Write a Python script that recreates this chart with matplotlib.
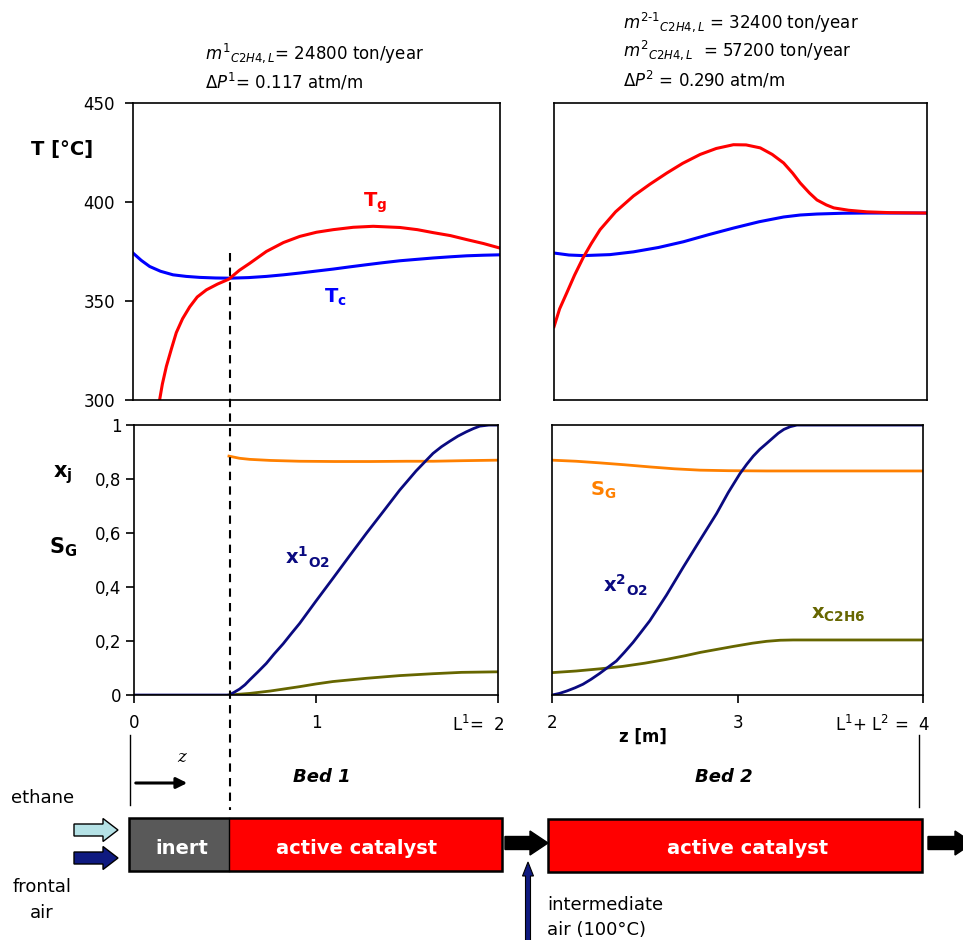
import matplotlib.pyplot as plt
from matplotlib.patches import Rectangle, FancyArrow
from matplotlib.transforms import ScaledTranslation

# ---- bed 1 temperature profiles (z in m, T in degC)
z_tg1 = [0.145, 0.16, 0.182, 0.21, 0.236, 0.27, 0.309, 0.35, 0.40, 0.46, 0.522, 0.58,
         0.636, 0.727, 0.82, 0.909, 1.0, 1.091, 1.2, 1.309, 1.455, 1.55, 1.636, 1.73,
         1.818, 1.91, 2.0]
tg1 = [300, 308, 317, 326, 334, 341, 347, 352, 355.6, 358.5, 361, 365.5,
       369, 375, 379.5, 382.6, 384.7, 386, 387.2, 387.7, 387.1, 386, 384.5, 383,
       381, 379, 376.7]
z_tc1 = [0.0, 0.045, 0.091, 0.15, 0.218, 0.29, 0.364, 0.45, 0.527, 0.63, 0.727, 0.82,
         0.909, 1.0, 1.091, 1.18, 1.273, 1.36, 1.455, 1.545, 1.636, 1.73, 1.818, 1.91, 2.0]
tc1 = [374.2, 370.5, 367.4, 365.0, 363.2, 362.4, 361.9, 361.6, 361.5, 361.8, 362.4, 363.2,
       364.1, 365.1, 366.1, 367.2, 368.3, 369.3, 370.3, 371.0, 371.7, 372.3, 372.8, 373.1, 373.3]

# ---- bed 2 temperature profiles
z_tg2 = [2.0, 2.03, 2.068, 2.11, 2.157, 2.2, 2.247, 2.33, 2.426, 2.515, 2.605, 2.69,
         2.784, 2.87, 2.962, 3.03, 3.106, 3.17, 3.231, 3.28, 3.32, 3.37, 3.41, 3.46,
         3.5, 3.58, 3.678, 3.8, 4.0]
tg2 = [337, 346, 354, 363, 372, 379, 386, 395, 403, 409, 414.6, 419.5,
       424, 427, 428.9, 428.8, 427.3, 424, 419.7, 414.5, 409.6, 404.5, 401, 398.5,
       397, 395.8, 395, 394.6, 394.4]
z_tc2 = [2.0, 2.08, 2.157, 2.3, 2.426, 2.56, 2.694, 2.83, 2.962, 3.1, 3.231, 3.32,
         3.41, 3.55, 3.678, 4.0]
tc2 = [374.2, 373.2, 372.9, 373.4, 374.8, 377, 379.9, 383.5, 386.8, 390, 392.4, 393.4,
       393.9, 394.3, 394.4, 394.4]

# ---- bed 1 conversions / selectivity
z_sg1 = [0.522, 0.58, 0.636, 0.75, 0.91, 1.1, 1.3, 1.5, 1.643, 1.8, 2.0]
sg1 = [0.885, 0.877, 0.873, 0.869, 0.866, 0.865, 0.865, 0.866, 0.866, 0.868, 0.870]
z_xo1 = [0.0, 0.522, 0.55, 0.58, 0.61, 0.636, 0.68, 0.727, 0.77, 0.82, 0.865, 0.91, 1.0,
         1.093, 1.185, 1.277, 1.37, 1.46, 1.55, 1.6, 1.643, 1.69, 1.735, 1.78, 1.826,
         1.865, 1.9, 1.95, 2.0]
xo1 = [0.0, 0.0, 0.010, 0.022, 0.038, 0.056, 0.085, 0.117, 0.152, 0.19, 0.228, 0.265, 0.348,
       0.432, 0.516, 0.599, 0.68, 0.759, 0.83, 0.865, 0.895, 0.92, 0.94, 0.959, 0.975,
       0.987, 0.996, 1.0, 1.0]
z_xe1 = [0.522, 0.636, 0.75, 0.91, 1.0, 1.093, 1.277, 1.46, 1.643, 1.8, 2.0]
xe1 = [0.0, 0.006, 0.015, 0.031, 0.041, 0.050, 0.062, 0.072, 0.079, 0.084, 0.086]

# ---- bed 2 conversions / selectivity
z_sg2 = [2.0, 2.13, 2.257, 2.39, 2.527, 2.66, 2.797, 2.95, 3.158, 4.0]
sg2 = [0.870, 0.866, 0.860, 0.853, 0.845, 0.838, 0.833, 0.831, 0.830, 0.830]
z_xo2 = [2.0, 2.04, 2.08, 2.125, 2.167, 2.21, 2.257, 2.3, 2.347, 2.39, 2.437, 2.48,
         2.527, 2.617, 2.707, 2.797, 2.887, 2.95, 3.013, 3.05, 3.085, 3.12, 3.157,
         3.19, 3.22, 3.25, 3.284, 3.32, 4.0]
xo2 = [0.0, 0.006, 0.015, 0.027, 0.04, 0.058, 0.08, 0.102, 0.126, 0.158, 0.195, 0.233,
       0.275, 0.37, 0.473, 0.573, 0.672, 0.75, 0.82, 0.855, 0.885, 0.91, 0.932,
       0.952, 0.97, 0.984, 0.994, 1.0, 1.0]
z_xe2 = [2.0, 2.13, 2.257, 2.38, 2.5, 2.617, 2.72, 2.8, 2.977, 3.08, 3.157, 3.23, 3.3, 4.0]
xe2 = [0.083, 0.089, 0.097, 0.106, 0.118, 0.132, 0.146, 0.158, 0.180, 0.192, 0.199,
       0.203, 0.204, 0.204]

t_ticks = [300, 350, 400, 450]
x_ticks = [0, 0.2, 0.4, 0.6, 0.8, 1.0]
x_tick_labels = ['0', '0,2', '0,4', '0,6', '0,8', '1']

RED = '#FF0000'
BLUE = '#0000FF'
NAVY = '#0A0A80'
ORANGE = '#FF8000'
OLIVE = '#666600'

fig = plt.figure(figsize=(9.63, 9.40), dpi=100)
ax_t1 = fig.add_axes([0.1381, 0.5745, 0.3811, 0.3160])
ax_t2 = fig.add_axes([0.5753, 0.5745, 0.3873, 0.3160])
ax_x1 = fig.add_axes([0.1391, 0.2606, 0.3780, 0.2872])
ax_x2 = fig.add_axes([0.5732, 0.2606, 0.3853, 0.2872])

for ax in (ax_t1, ax_t2, ax_x1, ax_x2):
    for s in ax.spines.values():
        s.set_linewidth(1.2)

# temperatures
ax_t1.plot(z_tc1, tc1, color=BLUE, lw=2.2)
ax_t1.plot(z_tg1, tg1, color=RED, lw=2.2)
ax_t1.set_xlim(0, 2)
ax_t1.set_ylim(300, 450)
ax_t1.set_xticks([])
ax_t1.set_yticks(t_ticks)
ax_t1.tick_params(axis='y', direction='out', length=6, width=1.2, pad=7, labelsize=12)

ax_t2.plot(z_tc2, tc2, color=BLUE, lw=2.2)
ax_t2.plot(z_tg2, tg2, color=RED, lw=2.2)
ax_t2.set_xlim(2, 4)
ax_t2.set_ylim(300, 450)
ax_t2.set_xticks([])
ax_t2.set_yticks([])

# conversions
ax_x1.plot(z_sg1, sg1, color=ORANGE, lw=2)
ax_x1.plot(z_xe1, xe1, color=OLIVE, lw=2)
ax_x1.plot(z_xo1, xo1, color=NAVY, lw=2)
ax_x1.set_xlim(0, 2)
ax_x1.set_ylim(0, 1)
ax_x1.set_yticks(x_ticks)
ax_x1.set_yticklabels(x_tick_labels)
ax_x1.set_xticks([0, 1, 2])
ax_x1.set_xticklabels(['0', '1', 'L$^1$=  2'])
ax_x1.tick_params(direction='out', length=6, width=1.2, labelsize=12)
ax_x1.tick_params(axis='y', pad=3)
ax_x1.tick_params(axis='x', pad=8)

ax_x2.plot(z_sg2, sg2, color=ORANGE, lw=2)
ax_x2.plot(z_xe2, xe2, color=OLIVE, lw=2)
ax_x2.plot(z_xo2, xo2, color=NAVY, lw=2)
ax_x2.set_xlim(2, 4)
ax_x2.set_ylim(0, 1)
ax_x2.set_yticks([])
ax_x2.set_xticks([2, 3, 4])
ax_x2.set_xticklabels(['2', '3', 'L$^1$+ L$^2$ =  4'])
ax_x2.tick_params(direction='out', length=6, width=1.2, labelsize=12, pad=8)

for ax in (ax_x1, ax_x2):
    lab = ax.get_xticklabels()[-1]
    lab.set_ha('right')
    lab.set_transform(lab.get_transform() + ScaledTranslation(5 / 72, 0, fig.dpi_scale_trans))

# overlay in pixel coordinates for the annotations and the reactor sketch
ov = fig.add_axes([0, 0, 1, 1])
ov.set_xlim(0, 963)
ov.set_ylim(940, 0)
ov.axis('off')
ov.set_zorder(10)

ov.text(62, 150, 'T [°C]', fontsize=14, fontweight='bold', ha='center', va='center')
ov.text(63, 475, r'$\mathbf{x}_\mathbf{j}$', fontsize=15, ha='center', va='center')
ov.text(63, 547, r'$\mathbf{S}_\mathbf{G}$', fontsize=15, ha='center', va='center')
ov.text(643, 737, 'z [m]', fontsize=12, fontweight='bold', ha='center', va='center')

ov.text(375, 203, r'$\mathbf{T}_\mathbf{g}$', fontsize=14, color=RED, ha='center', va='center')
ov.text(335, 297, r'$\mathbf{T}_\mathbf{c}$', fontsize=14, color=BLUE, ha='center', va='center')
ov.text(307, 557, r'$\mathbf{x}^\mathbf{1}{}_\mathbf{O2}$', fontsize=14, color=NAVY, ha='center', va='center')
ov.text(603, 490, r'$\mathbf{S}_\mathbf{G}$', fontsize=14, color=ORANGE, ha='center', va='center')
ov.text(625, 585, r'$\mathbf{x}^\mathbf{2}{}_\mathbf{O2}$', fontsize=14, color=NAVY, ha='center', va='center')
ov.text(838, 615, r'$\mathbf{x}_\mathbf{C2H6}$', fontsize=14, color=OLIVE, ha='center', va='center')

ov.text(205, 53, r'$\mathit{m^{1}{}_{C2H4,L}}$= 24800 ton/year', fontsize=12, va='center')
ov.text(205, 82, r'$\mathit{\Delta P^{1}}$= 0.117 atm/m', fontsize=12, va='center')
ov.text(623, 22, r'$\mathit{m^{2\text{-}1}{}_{C2H4,L}}$ = 32400 ton/year', fontsize=12, va='center')
ov.text(623, 50, r'$\mathit{m^{2}{}_{C2H4,L}}$  = 57200 ton/year', fontsize=12, va='center')
ov.text(623, 80, r'$\mathit{\Delta P^{2}}$ = 0.290 atm/m', fontsize=12, va='center')

# dashed separation inert / catalyst
ov.plot([230, 230], [253, 810], color='black', lw=1.5, ls=(0, (4, 3)))
ov.plot([130, 130], [735, 805], color='black', lw=1)
ov.plot([919, 919], [735, 807], color='black', lw=1)

ov.annotate('', xy=(190, 783), xytext=(133, 783),
            arrowprops=dict(arrowstyle='-|>', lw=2.2, color='black', mutation_scale=16))
ov.text(182, 758, 'z', fontsize=12, family='DejaVu Serif', style='italic', ha='center', va='center')
ov.text(322, 777, 'Bed 1', fontsize=13, fontweight='bold', style='italic', ha='center', va='center')
ov.text(724, 777, 'Bed 2', fontsize=13, fontweight='bold', style='italic', ha='center', va='center')

ov.add_patch(Rectangle((129, 818), 100, 53, fc='#595959', ec='none'))
ov.add_patch(Rectangle((229, 818), 273, 53, fc=RED, ec='none'))
ov.add_patch(Rectangle((129, 818), 373, 53, fc='none', ec='black', lw=1.8))
ov.plot([229, 229], [818, 871], color='black', lw=1)
ov.add_patch(Rectangle((548, 819), 374, 53, fc=RED, ec='black', lw=1.8))

ov.text(182, 848, 'inert', fontsize=14, fontweight='bold', color='white', ha='center', va='center')
ov.text(357, 848, 'active catalyst', fontsize=14, fontweight='bold', color='white', ha='center', va='center')
ov.text(748, 848, 'active catalyst', fontsize=14, fontweight='bold', color='white', ha='center', va='center')

ov.add_patch(FancyArrow(74, 830, 44, 0, width=12, head_width=23, head_length=15,
                        length_includes_head=True, fc='#B5E2E6', ec='black', lw=1))
ov.add_patch(FancyArrow(74, 858, 44, 0, width=12, head_width=23, head_length=15,
                        length_includes_head=True, fc='#0F1A80', ec='black', lw=1))
ov.add_patch(FancyArrow(505, 843, 43, 0, width=13, head_width=24, head_length=18,
                        length_includes_head=True, fc='black', ec='black', lw=1))
ov.add_patch(FancyArrow(928, 843, 45, 0, width=13, head_width=24, head_length=18,
                        length_includes_head=True, fc='black', ec='black', lw=1))
ov.add_patch(FancyArrow(528, 945, 0, -83, width=5, head_width=11, head_length=14,
                        length_includes_head=True, fc='#0F1A80', ec='black', lw=0.8))

ov.text(43, 798, 'ethane', fontsize=13, ha='center', va='center')
ov.text(42, 887, 'frontal', fontsize=13, ha='center', va='center')
ov.text(42, 913, 'air', fontsize=13, ha='center', va='center')
ov.text(547, 905, 'intermediate', fontsize=13, ha='left', va='center')
ov.text(547, 930, 'air (100°C)', fontsize=13, ha='left', va='center')

fig.savefig('out.png', dpi=100)
